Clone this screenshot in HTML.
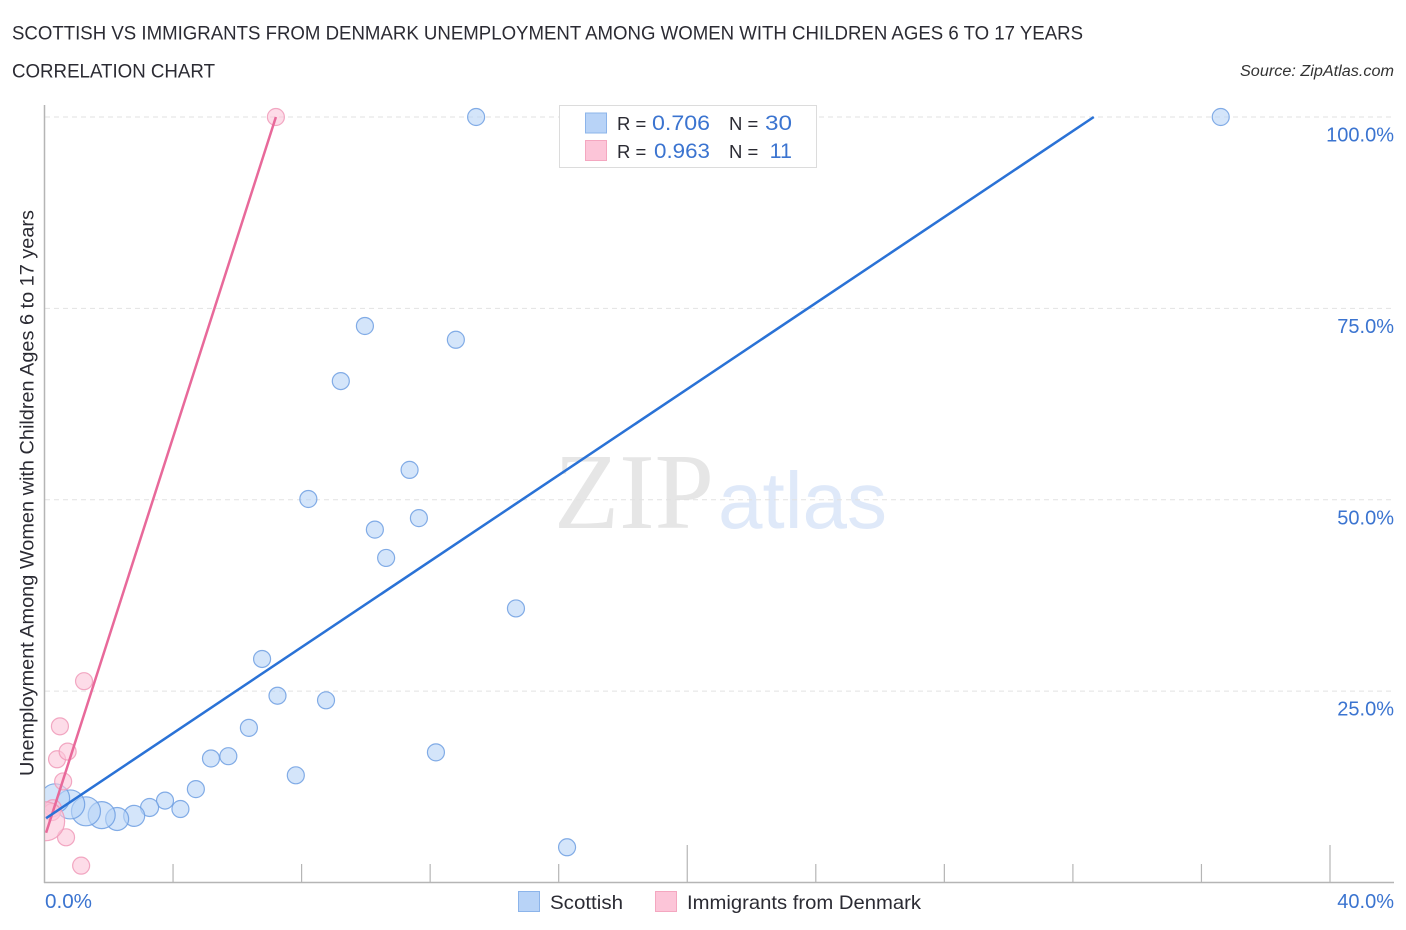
<!DOCTYPE html>
<html lang="en">
<head>
<meta charset="utf-8">
<title>Scottish vs Immigrants from Denmark Correlation Chart</title>
<style>
html,body{margin:0;padding:0;background:#fff;width:1406px;height:930px;overflow:hidden}
svg{display:block}
text{font-family:"Liberation Sans",sans-serif}
</style>
</head>
<body>
<svg id="chart" width="1406" height="930" viewBox="0 0 1406 930" xmlns="http://www.w3.org/2000/svg">
  <defs><clipPath id="plot-clip"><rect x="45" y="100" width="1355" height="783"/></clipPath></defs>
  <text x="12" y="39.5" font-size="19" fill="#2b2b33" textLength="1071" lengthAdjust="spacingAndGlyphs">SCOTTISH VS IMMIGRANTS FROM DENMARK UNEMPLOYMENT AMONG WOMEN WITH CHILDREN AGES 6 TO 17 YEARS</text>
  <text x="12" y="77.5" font-size="19" fill="#2b2b33" textLength="203" lengthAdjust="spacingAndGlyphs">CORRELATION CHART</text>
  <text x="1394" y="76" font-size="15.5" font-style="italic" fill="#333" text-anchor="end" textLength="154" lengthAdjust="spacingAndGlyphs">Source: ZipAtlas.com</text>

  <g id="watermark">
    <text x="554" y="528" font-size="108" fill="#e6e6e6" style="font-family:'Liberation Serif',serif" textLength="160" lengthAdjust="spacingAndGlyphs">ZIP</text>
    <text x="718" y="528" font-size="80" fill="#dfe9f9" textLength="169" lengthAdjust="spacingAndGlyphs">atlas</text>
  </g>

  <g id="grid"></g>
  <g id="axes"></g>
  <g id="scottish-points" clip-path="url(#plot-clip)"></g>
  <g id="denmark-points" clip-path="url(#plot-clip)"></g>
  <g id="lines"></g>
  <g id="tick-labels"></g>

  <text transform="translate(33.5,493) rotate(-90)" font-size="19" fill="#2b2b33" text-anchor="middle" textLength="566" lengthAdjust="spacingAndGlyphs">Unemployment Among Women with Children Ages 6 to 17 years</text>

  <g id="stats-legend">
    <rect x="559.5" y="105.5" width="257" height="62" fill="#fff" stroke="#dcdcdc" stroke-width="1"/>
    <rect x="585.5" y="113" width="21" height="20" fill="#b8d3f7" stroke="#8cb4ea" stroke-width="1"/>
    <rect x="585.5" y="140.5" width="21" height="20" fill="#fcc5d8" stroke="#f4a7c0" stroke-width="1"/>
    <text x="617" y="130" font-size="18.5" fill="#2b2b33">R =</text>
    <text x="652" y="130" font-size="21.5" fill="#3b74d0" textLength="58" lengthAdjust="spacingAndGlyphs">0.706</text>
    <text x="729" y="130" font-size="18.5" fill="#2b2b33">N =</text>
    <text x="765" y="130" font-size="21.5" fill="#3b74d0" textLength="27" lengthAdjust="spacingAndGlyphs">30</text>
    <text x="617" y="158" font-size="18.5" fill="#2b2b33">R =</text>
    <text x="654" y="158" font-size="21.5" fill="#3b74d0" textLength="56" lengthAdjust="spacingAndGlyphs">0.963</text>
    <text x="729" y="158" font-size="18.5" fill="#2b2b33">N =</text>
    <text x="792" y="158" font-size="21.5" fill="#3b74d0" text-anchor="end">11</text>
  </g>

  <g id="bottom-legend">
    <rect x="518.5" y="891.5" width="21" height="20" fill="#b8d3f7" stroke="#8cb4ea" stroke-width="1"/>
    <text x="550" y="909" font-size="19.5" fill="#2b2b33" textLength="73" lengthAdjust="spacingAndGlyphs">Scottish</text>
    <rect x="655.5" y="891.5" width="21" height="20" fill="#fcc5d8" stroke="#f4a7c0" stroke-width="1"/>
    <text x="687" y="909" font-size="19.5" fill="#2b2b33" textLength="234" lengthAdjust="spacingAndGlyphs">Immigrants from Denmark</text>
  </g>
</svg>
<script>
var yTickValues = [25, 50, 75, 100];
var yTickLabels = ["25.0%", "50.0%", "75.0%", "100.0%"];
var xTickValues = [0, 4, 8, 12, 16, 20, 24, 28, 32, 36, 40];
var xMajorTicks = [20, 40];
var xEndLabels = ["0.0%", "40.0%"];

var scottishX = [13.43, 36.6, 9.97, 12.8, 9.22, 11.36, 8.21, 10.28, 11.65, 10.63, 14.67, 6.77, 7.25, 8.76, 6.36, 12.18, 5.72, 5.18, 7.82, 4.71, 3.75, 3.27, 4.23, 2.79, 2.26, 1.78, 1.29, 0.8, 0.33, 16.26];
var scottishY = [100, 100, 72.7, 70.9, 65.5, 53.9, 50.1, 46.1, 47.6, 42.4, 35.8, 29.2, 24.4, 23.8, 20.2, 17, 16.5, 16.2, 14, 12.2, 10.7, 9.8, 9.6, 8.7, 8.3, 8.8, 9.3, 10.2, 11, 4.6];
var scottishSize = [9, 9, 9, 9, 9, 9, 9, 9, 9, 9, 9, 9, 9, 9, 9, 9, 9, 9, 9, 9, 9, 9.5, 9, 11, 12, 14, 15, 15, 15, 9];

var denmarkX = [7.2, 1.23, 0.48, 0.39, 0.72, 0.58, 0.26, 0.23, 0.67, 1.14, 0.02];
var denmarkY = [100, 26.3, 20.4, 16.1, 17.1, 13.2, 9.7, 9.2, 5.9, 2.2, 8];
var denmarkSize = [9, 9, 9, 9, 9, 9, 9, 9, 9, 9, 20];

var scottishTrendX = [0.05, 32.65];
var scottishTrendY = [8.4, 100];
var denmarkTrendX = [0.05, 7.2];
var denmarkTrendY = [6.5, 100];

var SVGNS = "http://www.w3.org/2000/svg";
function xScale(v) { return 44.5 + v * (1330 - 44.5) / 40; }
function yScale(v) { return 882.5 - v * (882.5 - 117) / 100; }
function add(parent, tag, attrs) {
  var el = document.createElementNS(SVGNS, tag);
  for (var k in attrs) { el.setAttribute(k, attrs[k]); }
  document.getElementById(parent).appendChild(el);
  return el;
}

yTickValues.forEach(function (v, i) {
  var g = add("grid", "line", { x1: 45, x2: 1394, y1: yScale(v), y2: yScale(v), stroke: "#e2e2e2", "stroke-width": 1, "stroke-dasharray": "5 4" });
  
  
  var t = add("tick-labels", "text", { x: 1394, y: yScale(v) + 24.5, "font-size": 20, fill: "#3b74d0", "text-anchor": "end" });
  t.textContent = yTickLabels[i];
  
  
});

var yAxisLine = add("axes", "line", { x1: 44.5, x2: 44.5, y1: 105, y2: 883, stroke: "#b5b5b5", "stroke-width": 1.5 });


var xAxisLine = add("axes", "line", { x1: 44, x2: 1394, y1: 882.5, y2: 882.5, stroke: "#b5b5b5", "stroke-width": 1.5 });



xTickValues.forEach(function (v) {
  if (v === 0) { return; }
  var top = xMajorTicks.indexOf(v) >= 0 ? 845 : 864;
  var tick = add("axes", "line", { x1: xScale(v), x2: xScale(v), y1: top, y2: 882.5, stroke: "#b5b5b5", "stroke-width": 1.2 });
  
  
});

var xLabelLeft = add("tick-labels", "text", { x: 45, y: 908, "font-size": 20, fill: "#3b74d0", textLength: 47, lengthAdjust: "spacingAndGlyphs" });
xLabelLeft.textContent = xEndLabels[0];


var xLabelRight = add("tick-labels", "text", { x: 1394, y: 908, "font-size": 20, fill: "#3b74d0", "text-anchor": "end" });
xLabelRight.textContent = xEndLabels[1];



scottishX.forEach(function (v, i) {
  var c = add("scottish-points", "circle", { cx: xScale(v), cy: yScale(scottishY[i]), r: scottishSize[i] - 0.5, fill: "#b8d3f7", "fill-opacity": 0.6, stroke: "#6f9fe2", "stroke-opacity": 0.85, "stroke-width": 1.2 });
  
  
});

denmarkX.forEach(function (v, i) {
  var c = add("denmark-points", "circle", { cx: xScale(v), cy: yScale(denmarkY[i]), r: denmarkSize[i] - 0.5, fill: "#fcc5d8", "fill-opacity": 0.6, stroke: "#f09ab8", "stroke-opacity": 0.85, "stroke-width": 1.2 });
  
  
});

var denmarkLine = add("lines", "line", { x1: xScale(denmarkTrendX[0]), y1: yScale(denmarkTrendY[0]), x2: xScale(denmarkTrendX[1]), y2: yScale(denmarkTrendY[1]), stroke: "#e8699a", "stroke-width": 2.5 });


var scottishLine = add("lines", "line", { x1: xScale(scottishTrendX[0]), y1: yScale(scottishTrendY[0]), x2: xScale(scottishTrendX[1]), y2: yScale(scottishTrendY[1]), stroke: "#2a72d6", "stroke-width": 2.5 });


</script>
</body>
</html>
